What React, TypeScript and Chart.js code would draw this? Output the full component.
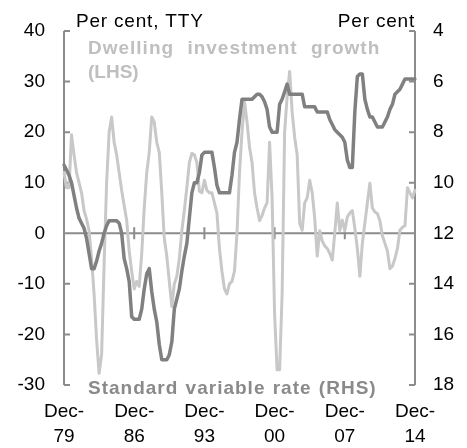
import { useEffect, useRef } from 'react';
import { Chart, registerables } from 'chart.js';

Chart.register(...registerables);

// Quarterly labels from Dec-79 to Dec-14
const MONTHS = ['Mar', 'Jun', 'Sep', 'Dec'];
const QUARTERS: string[] = [];
for (let i = 0; i <= 140; i++) {
  const m = MONTHS[(3 + i) % 4];
  const y = 1979 + Math.floor((i + 3) / 4);
  QUARTERS.push(m + '-' + String(y % 100).padStart(2, '0'));
}
const X_TICK_LABELS = ['Dec-79', 'Dec-86', 'Dec-93', 'Dec-00', 'Dec-07', 'Dec-14'];

// Dwelling investment growth, per cent TTY (LHS)
const DWELLING = [
  12, 9, 9, 19.5, 15.5, 12, 10, 8, 4.5, 2.8,
  0.5, -5, -12, -21, -27.7, -24, -6, 10, 20, 23,
  18, 15.5, 12, 8.5, 5.5, 2.6, -3.5, -7.5, -11, -9.5,
  -10.5, -4, 5, 12, 16, 23, 22, 18, 16, 8,
  -1, -4.5, -9.5, -14.5, -10, -8.5, -5, 0.5, 4.5, 9,
  14, 15.8, 15.5, 14, 8.3, 8, 10.5, 8.5, 8, 8,
  6, 4, -3, -7.5, -11, -12, -10, -9.5, -7.5, 0,
  12, 20, 26, 22, 17, 14, 8, 5, 2.5, 3.5,
  5, 6, 18, 7, -16, -27, -27, -12, 20, 27,
  32, 24, 19, 15.5, 2, 0.6, 6, 7, 10.5, 8,
  3, -4.5, 0.5, -1.5, -2.5, -3, -4, -5.3, 0, 6,
  0.5, 2.6, 0.5, 3.2, 4, 4.5, 1, -3, -8.5, -2,
  2, 6, 9.9, 5, 4.2, 3.9, 2.5, -0.5, -2, -3.5,
  -7, -6.5, -5, -3, 0.6, 1.2, 1.5, 9, 8, 7,
  8.5,
];

// Standard variable rate, per cent (RHS, inverted)
const RATE = [
  9.3, 9.5, 9.7, 10.0, 10.5, 11.0, 11.4, 11.6, 11.8, 12.2,
  12.8, 13.4, 13.4, 13.1, 12.7, 12.4, 12.0, 11.7, 11.5, 11.5,
  11.5, 11.5, 11.6, 12.0, 13.0, 13.4, 13.9, 15.3, 15.4, 15.4,
  15.4, 15.0, 14.2, 13.6, 13.4, 14.3, 15.0, 15.5, 16.4, 17.0,
  17.0, 17.0, 16.8, 16.3, 15.0, 14.6, 14.2, 13.5, 12.9, 12.4,
  11.4, 10.4, 10.0, 10.0, 9.6, 8.9, 8.8, 8.8, 8.8, 8.8,
  9.4, 10.1, 10.4, 10.4, 10.4, 10.4, 10.4, 9.7, 8.8, 8.4,
  7.5, 6.7, 6.7, 6.7, 6.7, 6.7, 6.6, 6.5, 6.5, 6.6,
  6.8, 7.1, 7.8, 8.0, 8.0, 8.0, 6.9, 6.7, 6.4, 6.1,
  6.5, 6.5, 6.5, 6.5, 6.5, 6.5, 7.0, 7.0, 7.0, 7.0,
  7.0, 7.2, 7.2, 7.2, 7.2, 7.2, 7.5, 7.7, 7.9, 8.0,
  8.1, 8.2, 8.4, 9.1, 9.4, 9.4, 7.2, 5.8, 5.7, 5.7,
  6.7, 7.1, 7.4, 7.4, 7.6, 7.8, 7.8, 7.8, 7.6, 7.4,
  7.1, 6.9, 6.5, 6.4, 6.3, 6.1, 5.9, 5.9, 5.9, 5.9,
  5.9,
];

const LEFT_MIN = -30;
const LEFT_MAX = 40;
const LEFT_STEP = 10;
const RIGHT_MIN = 4;
const RIGHT_MAX = 18;
const RIGHT_STEP = 2;

const LIGHT = '#c8c8c8';
const DARK = '#808080';
const AXIS = '#8c8c8c';
const FONT = "'Liberation Sans', Arial, sans-serif";

const decor = {
  id: 'decor',
  beforeDatasetsDraw(chart: any) {
    const { ctx, chartArea: a, scales } = chart;
    const yL = scales.yL;
    const yR = scales.yR;
    const x = scales.x;
    ctx.save();
    ctx.strokeStyle = AXIS;
    ctx.lineWidth = 2;
    ctx.beginPath();
    // left axis
    ctx.moveTo(a.left, a.top);
    ctx.lineTo(a.left, a.bottom);
    yL.ticks.forEach((t: any) => {
      const py = yL.getPixelForValue(t.value);
      ctx.moveTo(a.left, py);
      ctx.lineTo(a.left + 6, py);
    });
    // right axis
    ctx.moveTo(a.right, a.top);
    ctx.lineTo(a.right, a.bottom);
    yR.ticks.forEach((t: any) => {
      const py = yR.getPixelForValue(t.value);
      ctx.moveTo(a.right, py);
      ctx.lineTo(a.right - 6, py);
    });
    // x axis at zero
    const y0 = yL.getPixelForValue(0);
    ctx.moveTo(a.left, y0);
    ctx.lineTo(a.right, y0);
    X_TICK_LABELS.forEach((lab) => {
      const idx = QUARTERS.indexOf(lab);
      const px = x.getPixelForValue(idx);
      ctx.moveTo(px, y0 - 6);
      ctx.lineTo(px, y0 + 6);
    });
    ctx.stroke();
    ctx.restore();
  },
  afterDraw(chart: any) {
    const { ctx } = chart;
    ctx.save();
    ctx.textBaseline = 'middle';
    ctx.fillStyle = '#000';
    ctx.font = `19px ${FONT}`;
    (ctx as any).letterSpacing = '0.8px';
    ctx.textAlign = 'left';
    ctx.fillText('Per cent, TTY', 76, 21.5);
    ctx.textAlign = 'right';
    ctx.fillText('Per cent', 415, 21.5);

    ctx.textAlign = 'left';
    ctx.font = `bold 19px ${FONT}`;
    (ctx as any).letterSpacing = '1px';
    (ctx as any).wordSpacing = '7px';
    ctx.fillStyle = '#bfbfbf';
    ctx.fillText('Dwelling investment growth', 88, 48.5);
    (ctx as any).wordSpacing = '0px';
    (ctx as any).letterSpacing = '0px';
    ctx.fillText('(LHS)', 88, 73);

    (ctx as any).letterSpacing = '1px';
    (ctx as any).wordSpacing = '1px';
    ctx.fillStyle = '#8a8a8a';
    ctx.fillText('Standard variable rate (RHS)', 88, 389);
    ctx.restore();
  },
};

export default function App() {
  const ref = useRef<HTMLCanvasElement | null>(null);

  useEffect(() => {
    if (!ref.current) return;
    Chart.defaults.font.family = FONT;
    const chart = new Chart(ref.current, {
      type: 'line',
      data: {
        labels: QUARTERS,
        datasets: [
          {
            label: 'Standard variable rate (RHS)',
            data: RATE,
            yAxisID: 'yR',
            borderColor: DARK,
            borderWidth: 3.5,
            pointRadius: 0,
            tension: 0,
            fill: false,
            borderJoinStyle: 'round',
            borderCapStyle: 'round',
          },
          {
            label: 'Dwelling investment growth (LHS)',
            data: DWELLING,
            yAxisID: 'yL',
            borderColor: LIGHT,
            borderWidth: 3,
            pointRadius: 0,
            tension: 0,
            fill: false,
            borderJoinStyle: 'round',
            borderCapStyle: 'round',
          },
        ],
      },
      options: {
        animation: false,
        responsive: true,
        maintainAspectRatio: false,
        events: [],
        layout: { padding: { top: 31, left: 0, right: 0, bottom: 0 } },
        plugins: {
          legend: { display: false },
          tooltip: { enabled: false },
          title: { display: false },
        },
        scales: {
          x: {
            type: 'category',
            offset: false,
            grid: { display: false, drawTicks: false },
            border: { display: false },
            ticks: {
              autoSkip: false,
              maxRotation: 0,
              minRotation: 0,
              padding: 14,
              color: '#000',
              font: { size: 19, family: FONT, lineHeight: 1.34 },
              callback: (_v: any, i: number) => {
                const lab = QUARTERS[i];
                return X_TICK_LABELS.includes(lab) ? [lab.slice(0, 4), lab.slice(4)] : null;
              },
            },
            afterFit: (s: any) => {
              s.height = 63;
            },
          },
          yL: {
            type: 'linear',
            position: 'left',
            min: LEFT_MIN,
            max: LEFT_MAX,
            grid: { display: false, drawTicks: false },
            border: { display: false },
            ticks: {
              stepSize: LEFT_STEP,
              padding: 19,
              color: '#000',
              font: { size: 19, family: FONT },
            },
            afterFit: (s: any) => {
              s.width = 64;
            },
          },
          yR: {
            type: 'linear',
            position: 'right',
            reverse: true,
            min: RIGHT_MIN,
            max: RIGHT_MAX,
            grid: { display: false, drawTicks: false },
            border: { display: false },
            ticks: {
              stepSize: RIGHT_STEP,
              padding: 18,
              color: '#000',
              font: { size: 19, family: FONT },
            },
            afterFit: (s: any) => {
              s.width = 52;
            },
          },
        },
      },
      plugins: [decor],
    });
    return () => chart.destroy();
  }, []);

  return (
    <div style={{ position: 'fixed', left: 0, top: 0, width: 467, height: 448 }}>
      <canvas ref={ref} />
    </div>
  );
}
